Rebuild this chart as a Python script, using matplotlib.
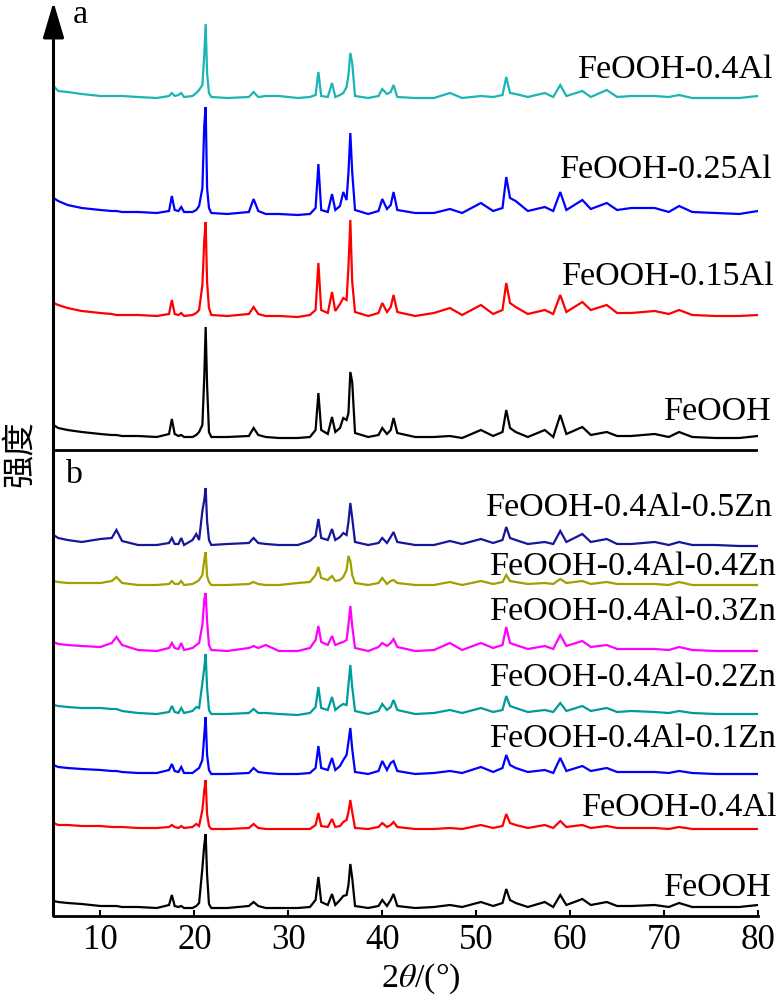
import matplotlib
matplotlib.use('Agg')
import matplotlib.pyplot as plt

plt.rcParams['font.family'] = ['Liberation Serif', 'DejaVu Serif']
plt.rcParams['mathtext.fontset'] = 'stix'

# ---------------- data (2theta grid shared by all patterns) ----------------
two_theta = [5.0, 5.5, 6.5, 8.0, 10.0, 11.2, 11.7, 12.3, 14.0, 16.0,
             17.3, 17.6, 17.9,
             18.3, 18.6, 18.9,
             19.8, 20.2, 20.5, 20.85, 21.05, 21.2, 21.35, 21.55, 21.8,
             23.5, 25.8, 26.3, 26.8, 27.6, 29.0, 31.0, 32.3,
             32.9, 33.2, 33.5,
             34.2, 34.65, 35.0,
             35.5, 35.85, 36.2, 36.4, 36.6, 36.8, 37.1,
             38.5, 39.6, 40.0, 40.5, 40.9, 41.2, 41.6,
             43.5, 45.5, 47.2, 48.5, 50.5, 51.8,
             52.8, 53.2, 53.6, 54.2, 55.5,
             57.3, 58.2, 58.95, 59.6,
             61.3, 62.2, 63.9, 65.0, 66.5, 69.0, 70.5, 71.6, 73.0, 75.5, 78.0, 80.0]

# stacked (offset) intensities, in plot units measured downward from the top
# ---- panel a ----
a_04Al = [86, 91, 92, 94, 96, 96, 96, 96, 97, 98,
          96, 93, 96,
          95, 93, 97,
          96, 93, 90, 85, 55, 24, 73, 93, 97,
          98, 97, 92, 97, 96, 96, 98, 97,
          95, 72, 96,
          97, 83, 97,
          95, 93, 87, 75, 53, 63, 96,
          98, 96, 89, 94, 92, 85, 97,
          98, 98, 93, 98, 96, 97,
          95, 77, 93, 94, 97,
          93, 97, 85, 96,
          91, 97, 90, 97, 96, 96, 97, 95, 98, 98, 98, 96]
a_025Al = [198, 201, 205, 208, 210, 211, 211, 212, 212, 213,
           211, 196, 210,
           211, 207, 212,
           212, 210, 206, 188, 125, 107, 188, 208, 213,
           214, 212, 199, 211, 214, 214, 215, 214,
           208, 164, 210,
           212, 194, 210,
           206, 192, 200, 173, 133, 172, 210,
           214, 211, 199, 209, 205, 192, 210,
           213, 213, 209, 213, 203, 211,
           208, 177, 198, 201, 211,
           207, 211, 192, 210,
           200, 209, 203, 210, 208, 208, 212, 206, 212, 213, 214, 211]
a_015Al = [303, 305, 308, 311, 313, 314, 315, 315, 315, 316,
           314, 300, 314,
           315, 313, 316,
           315, 313, 310, 285, 240, 222, 282, 308, 315,
           316, 314, 307, 314, 316, 316, 317, 315,
           310, 263, 310,
           313, 292, 311,
           304, 298, 300, 267, 220, 282, 312,
           316, 313, 303, 312, 307, 295, 312,
           316, 313, 308, 315, 305, 314,
           310, 283, 303, 307, 314,
           310, 314, 295, 312,
           302, 310, 305, 313, 313, 311, 314, 310, 315, 316, 316, 315]
a_FeOOH = [425, 428, 430, 432, 434, 435, 435, 436, 436, 437,
           434, 419, 434,
           436, 435, 437,
           437, 435, 432, 425, 377, 327, 385, 432, 437,
           437, 436, 428, 435, 437, 438, 438, 437,
           430, 393, 430,
           434, 417, 432,
           428, 418, 420, 413, 372, 382, 433,
           437, 435, 428, 434, 430, 418, 433,
           437, 437, 436, 438, 430, 436,
           432, 410, 428, 432, 437,
           430, 437, 415, 434,
           427, 435, 432, 436, 436, 434, 437, 432, 437, 438, 438, 436]

# ---- panel b ----
b_05Zn = [535, 538, 540, 542, 539, 538, 530, 541, 545, 545,
          543, 538, 544,
          544, 538, 545,
          540, 534, 540, 511, 500, 488, 521, 540, 545,
          544, 543, 538, 543, 544, 545, 545, 541,
          536, 519, 538,
          540, 529, 540,
          537, 533, 535, 522, 503, 518, 542,
          545, 543, 538, 543, 537, 532, 542,
          545, 545, 541, 544, 539, 543,
          540, 527, 538, 540, 544,
          542, 544, 531, 542,
          534, 542, 539, 544, 544, 542, 545, 542, 545, 545, 546, 546]
b_04Zn = [581, 582, 583, 583, 583, 581, 577, 583, 585, 585,
          584, 581, 584,
          584, 581, 585,
          584, 582, 580, 575, 560, 552, 576, 582, 585,
          585, 584, 582, 584, 585, 585, 583, 582,
          575, 567, 578,
          580, 576, 581,
          580, 577, 570, 556, 561, 575, 583,
          585, 583, 578, 584, 581, 580, 583,
          585, 585, 582, 585, 581, 584,
          582, 575, 581, 582, 584,
          583, 584, 579, 583,
          581, 584, 582, 584, 584, 584, 585, 582, 585, 585, 585, 585]
b_03Zn = [642, 644, 645, 646, 647, 643, 637, 645, 650, 651,
          648, 643, 648,
          649, 643, 650,
          648, 645, 643, 625, 600, 593, 621, 645, 650,
          651, 648, 646, 648, 645, 651, 651, 648,
          640, 626, 642,
          645, 636, 645,
          643, 642, 640, 625, 606, 626, 648,
          651, 647, 643, 646, 643, 639, 647,
          651, 650, 643, 650, 643, 648,
          645, 627, 643, 645, 649,
          646, 649, 635, 646,
          641, 647, 645, 649, 649, 649, 650, 647, 650, 651, 651, 651]
b_02Zn = [705, 706, 707, 708, 708, 709, 709, 711, 713, 714,
          712, 706, 712,
          713, 708, 713,
          711, 707, 708, 683, 668, 654, 688, 710, 714,
          714, 713, 709, 713, 713, 714, 715, 713,
          707, 687, 708,
          710, 697, 710,
          706, 704, 705, 685, 665, 687, 711,
          714, 711, 704, 710, 707, 700, 710,
          714, 713, 710, 713, 708, 712,
          710, 696, 706, 708, 712,
          710, 712, 703, 711,
          706, 711, 708, 712, 711, 712, 713, 711, 713, 714, 714, 714]
b_01Zn = [765, 767, 768, 769, 770, 771, 771, 772, 773, 773,
          770, 764, 771,
          772, 767, 773,
          773, 770, 768, 760, 735, 717, 755, 770, 774,
          774, 773, 768, 772, 773, 774, 774, 773,
          768, 746, 768,
          770, 758, 770,
          766, 760, 755, 742, 728, 749, 772,
          774, 771, 761, 770, 763, 761, 771,
          774, 773, 771, 773, 767, 772,
          768, 755, 765, 768, 772,
          770, 773, 758, 771,
          766, 771, 768, 772, 772, 772, 773, 771, 773, 774, 774, 774]
b_04Al = [823, 825, 825, 826, 826, 827, 827, 827, 828, 828,
          827, 825, 827,
          828, 826, 828,
          827, 824, 826, 810, 790, 780, 814, 826, 829,
          829, 828, 824, 828, 829, 829, 829, 829,
          825, 813, 826,
          827, 819, 827,
          826, 822, 820, 812, 800, 812, 828,
          829, 827, 823, 827, 825, 822, 827,
          829, 829, 828, 829, 825, 828,
          826, 814, 823, 825, 828,
          825, 828, 821, 827,
          825, 828, 826, 828, 828, 828, 829, 827, 829, 829, 829, 829]
b_FeOOH = [901, 902, 903, 904, 906, 906, 906, 907, 907, 908,
           905, 895, 906,
           907, 906, 908,
           908, 906, 903, 868, 845, 834, 875, 904, 908,
           908, 906, 902, 906, 908, 908, 908, 907,
           900, 877, 902,
           905, 894, 905,
           900, 896, 895, 885, 864, 878, 906,
           908, 906, 900, 906, 900, 894, 906,
           908, 907, 905, 907, 902, 906,
           903, 889, 900, 903, 907,
           902, 907, 895, 905,
           899, 905, 902, 906, 906, 905, 907, 903, 907, 907, 907, 905]

series = [a_04Al, a_025Al, a_015Al, a_FeOOH,
          b_05Zn, b_04Zn, b_03Zn, b_02Zn, b_01Zn, b_04Al, b_FeOOH]
labels = ['FeOOH-0.4Al', 'FeOOH-0.25Al', 'FeOOH-0.15Al', 'FeOOH',
          'FeOOH-0.4Al-0.5Zn', 'FeOOH-0.4Al-0.4Zn', 'FeOOH-0.4Al-0.3Zn',
          'FeOOH-0.4Al-0.2Zn', 'FeOOH-0.4Al-0.1Zn', 'FeOOH-0.4Al', 'FeOOH']
colors = ['#1cb4b4', '#0000ff', '#ff0000', '#000000',
          '#16169a', '#a0a000', '#ff00ff', '#009c9c', '#0000ff', '#ff0000', '#000000']
x_ticks = [10, 20, 30, 40, 50, 60, 70, 80]

# label anchor (right edge x, baseline y) in figure pixels
label_pos = [(773, 78), (773, 178), (775, 285), (772, 420),
             (773, 516), (777, 575), (777, 620), (777, 686), (777, 747), (777, 816), (772, 896)]

W, H = 779, 1000
fig = plt.figure(figsize=(W / 100, H / 100), dpi=100)
ax = fig.add_axes([53.5 / W, 1 - 916 / H, (758 - 53.5) / W, (916 - 2) / H])

for ys, c in zip(series, colors):
    ax.plot(two_theta, ys, color=c, lw=1.6, solid_joinstyle='miter')

ax.set_xlim(5, 80)
ax.set_ylim(916, 2)
ax.axhline(450, color='black', lw=2.0)

for s in ['top', 'right', 'left']:
    ax.spines[s].set_visible(False)
ax.spines['bottom'].set_linewidth(2.0)
ax.set_yticks([])
ax.set_xticks(x_ticks)
ax.tick_params(axis='x', direction='in', length=4.5, width=1.5, labelsize=25, pad=6)

# y axis with arrow
ax.annotate('', xy=(0, 1), xytext=(0, 0), xycoords='axes fraction',
            arrowprops=dict(arrowstyle='-|>,head_length=2.2,head_width=0.65',
                            lw=2.2, color='black', shrinkA=0, shrinkB=0, mutation_scale=10),
            annotation_clip=False)

ax.set_xlabel('2$\\theta$/(°)', fontsize=24.5)
ax.xaxis.set_label_coords(0.5217, -0.0503)
ax.set_ylabel('强度', fontsize=24, family=['Noto Sans CJK SC', 'DejaVu Sans'])
ax.yaxis.set_label_coords(-0.049, 0.5055)
ax.yaxis.label.set_verticalalignment('center')

for lab, (xp, yp) in zip(labels, label_pos):
    fig.text(xp / W, 1 - yp / H, lab, ha='right', va='baseline', fontsize=24.5)

fig.text(73 / W, 1 - 23 / H, 'a', ha='left', va='baseline', fontsize=24.5)
fig.text(65 / W, 1 - 483 / H, 'b', ha='left', va='baseline', fontsize=24.5)

fig.savefig('out.png', dpi=100)
